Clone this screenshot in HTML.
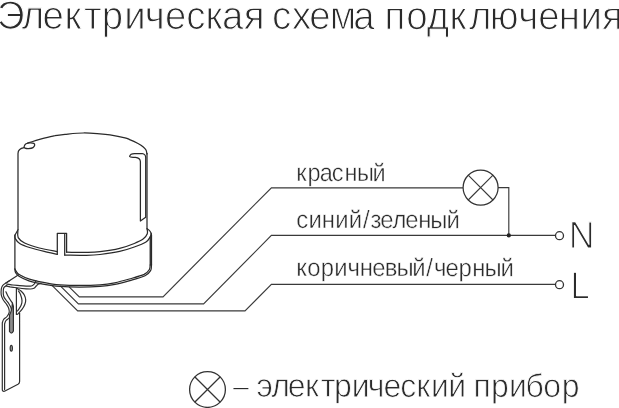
<!DOCTYPE html>
<html lang="ru">
<head>
<meta charset="utf-8">
<title>Электрическая схема подключения</title>
<style>
html,body{margin:0;padding:0;background:#fff;overflow:hidden}
svg{will-change:transform;display:block;position:absolute;left:0;top:0}
text{font-family:"Liberation Sans","DejaVu Sans",sans-serif;fill:#2b2b2b;stroke:#fff;stroke-linejoin:round}
.t1{font-size:40px;stroke-width:1.1px}
.t2{font-size:24px;stroke-width:.6px}
.t3{font-size:34px;stroke-width:.9px}
.t5{font-size:34px;stroke-width:.3px}
.t4{font-size:37px;stroke-width:1.1px}
.ln{fill:none;stroke:#3a3a3a;stroke-width:1.15}
.dv{fill:none;stroke:#2a2a2a;stroke-width:1.25;stroke-linecap:round;stroke-linejoin:round}
.br{stroke-width:1.2;stroke:#303030}
</style>
</head>
<body>
<svg width="619" height="408" viewBox="0 0 619 408">
<rect id="bg" width="619" height="408" fill="#fff"/>

<!-- wires -->
<g class="ln">
<path d="M69.1 286.9L79.3 296.8H163L271.4 187.8H463"/>
<path d="M60.3 285.9L78.4 303.9H203.6L271.4 235.4H555.500"/>
<path d="M51.5 284.9L77.7 310.9H245L271.4 284.3H555.500"/>
<path d="M498 187.6H508.800V235.4"/>
<circle cx="480.600" cy="187.600" r="17.500" style="stroke-width:1.25;stroke:#333"/>
<path d="M468.200 175.200L493 200M493 175.200L468.200 200"/>
<circle cx="559.500" cy="235.700" r="4" style="stroke-width:1.3;stroke:#333"/>
<circle cx="559.500" cy="284.700" r="4" style="stroke-width:1.3;stroke:#333"/>
</g>
<g class="ln" style="stroke-width:1.3;stroke:#333">
<circle cx="207.500" cy="389.500" r="17.900"/>
<path d="M194.700 376.700L220.300 402.300M220.300 376.700L194.700 402.300"/>
</g>
<circle cx="508.800" cy="235.400" r="2.100" fill="#222"/>

<!-- device -->
<g class="dv">
<path d="M18 229.8V153.5C18 150 19.8 148.4 24.1 147.7"/>
<path d="M24.1 146.6C24.3 145.9 25.0 144.4 26.0 143.8C27.0 143.2 28.7 142.9 30.0 142.8C31.3 142.7 33.0 143.0 33.8 143.4C34.6 143.8 34.8 144.5 34.7 145.2C34.6 145.9 34.0 147.0 33.0 147.6C32.0 148.2 29.8 148.5 28.5 148.6C27.2 148.7 25.7 148.4 25.0 148.1C24.3 147.8 23.9 147.3 24.1 146.6Z"/>
<path d="M27.5 143.1C30.3 142.3 39.6 139.4 44.2 138.2C48.8 137.0 51.5 136.3 55.0 135.7C58.5 135.0 60.3 134.8 65.0 134.3C69.7 133.9 77.5 133.1 83.3 133.0C89.1 132.9 95.5 133.5 100.0 133.8C104.5 134.1 105.8 134.2 110.0 134.9C114.2 135.6 121.7 137.1 125.0 137.9C128.3 138.7 127.4 138.7 129.6 139.6C131.8 140.5 135.7 142.3 138.0 143.5C140.3 144.7 142.0 145.8 143.3 146.9C144.6 148.0 145.4 148.8 146.0 150.0C146.6 151.2 146.8 153.3 147.0 154.0"/>
<path d="M147 153.5V228.8"/>
<path d="M129.6 156.4C130 154.6 132 153.5 134.5 153.5H142.2C144.5 153.9 145.6 155.4 145.7 157.4V217.2L140.4 221V161.8C140.3 159.4 138.5 157.8 135.5 157.4C133 157.1 130 157.6 129.6 156.4Z"/>
<path d="M18 229.8L14.9 235.2V268.9"/>
<path d="M17.9 230.8C17.9 231.9 17.1 235.6 18.2 237.6C19.3 239.6 21.1 241.3 24.6 243.0C28.1 244.7 33.8 246.6 39.3 248.0C44.8 249.4 54.3 251.0 57.3 251.6"/>
<path d="M14.9 235.2C15.0 235.8 14.5 237.2 15.3 238.6C16.1 240.0 17.3 242.0 19.7 243.5C22.1 245.0 25.4 246.2 29.5 247.5C33.6 248.8 39.6 250.3 44.2 251.4C48.8 252.5 55.1 253.8 57.3 254.3"/>
<path d="M57.3 254.3V233.3H66.6V252.2M64.7 255.1V234.2"/>
<path d="M66.6 252.2C69.7 252.2 79.4 252.5 85.0 252.4C90.6 252.3 94.2 252.4 100.0 251.7C105.8 251.0 113.9 249.8 119.6 248.4C125.3 247.0 130.4 245.1 134.3 243.5C138.2 241.9 140.9 240.7 143.1 239.1C145.3 237.5 146.6 235.4 147.3 233.7C148.0 232.0 147.1 229.6 147.1 228.8"/>
<path d="M64.7 255.1C68.1 255.1 79.1 255.4 85.0 255.3C90.9 255.2 94.2 255.2 100.0 254.5C105.8 253.8 113.9 252.7 119.6 251.4C125.3 250.2 129.9 248.6 134.3 247.0C138.7 245.4 143.4 243.6 146.0 242.0C148.6 240.4 149.1 238.6 150.0 237.2C150.9 235.8 151.0 234.0 151.2 233.3"/>
<path d="M147.1 228.8C149.5 230 151 232 151.5 235V264.8M150.2 237V265"/>
<path d="M14.9 268.9C15.1 269.3 15.4 270.4 16.2 271.4C17.0 272.4 17.4 273.5 19.6 274.8C21.8 276.1 26.1 278.1 29.4 279.2C32.7 280.3 35.6 280.9 39.2 281.7C42.8 282.5 47.5 283.3 51.0 283.8C54.5 284.3 55.3 284.5 60.0 284.8C64.7 285.1 72.7 285.4 79.4 285.4C86.1 285.4 94.1 285.2 100.0 284.8C105.9 284.4 109.8 283.8 114.7 282.8C119.6 281.8 124.5 280.4 129.4 279.0C134.3 277.6 140.8 275.9 144.1 274.4C147.4 272.8 148.3 271.3 149.3 269.7C150.3 268.1 150.0 265.8 150.2 265.0"/>
<path d="M14.9 269.5C15.0 270.0 14.9 271.5 15.6 272.6C16.3 273.7 16.8 274.8 19.0 276.2C21.2 277.6 25.6 279.6 28.9 280.8C32.2 282.0 35.2 282.5 38.9 283.3C42.5 284.1 47.3 284.9 50.8 285.4C54.3 285.9 55.2 286.1 60.0 286.4C64.8 286.7 72.7 287.0 79.4 287.0C86.1 287.0 94.1 286.8 100.0 286.4C105.9 286.0 110.0 285.4 115.0 284.4C120.0 283.4 124.9 282.0 129.9 280.6C134.9 279.2 141.6 277.5 145.0 275.8C148.4 274.1 149.5 272.4 150.6 270.6C151.7 268.8 151.3 265.8 151.5 264.8"/>
</g>
<g class="dv br">
<path d="M18.6 274.8L5.9 283.1"/>
<path d="M9.6 280.7C9.0 281.1 7.1 282.3 5.9 283.1C4.7 283.9 3.4 284.6 2.6 285.6C1.8 286.6 1.5 287.5 1.3 289.0C1.1 290.5 0.9 292.9 1.2 294.7C1.5 296.4 2.2 298.0 3.0 299.5C3.8 301.0 5.1 302.1 6.0 303.5C6.9 304.9 8.1 306.5 8.6 308.0C9.1 309.5 9.5 311.1 9.2 312.5C8.9 313.9 7.9 315.3 7.0 316.5C6.1 317.7 4.4 318.4 3.6 319.5C2.8 320.6 2.5 322.4 2.3 323.0V389.5Q2.3 391.8 4.5 391.2L18 384.3Q19.6 383.4 19.6 381.5V313"/>
<path d="M6.9 285.2C6.4 285.6 4.6 286.5 4.0 287.4C3.4 288.3 3.3 289.0 3.3 290.5C3.2 292.0 3.2 294.6 3.7 296.2C4.2 297.8 5.1 298.7 6.0 300.0C6.9 301.3 8.1 302.6 9.0 304.0C9.9 305.4 10.8 307.0 11.2 308.5C11.6 310.0 11.9 311.5 11.6 313.0C11.3 314.5 10.4 316.2 9.5 317.5C8.6 318.8 6.8 319.4 6.0 320.5C5.2 321.6 4.8 323.4 4.6 324.0V389.5"/>
<path d="M5.9 291.8C6.2 292.4 6.9 294.2 7.6 295.5C8.3 296.8 9.2 298.2 10.0 299.5C10.8 300.8 12.0 302.4 12.4 303.0"/>
<path d="M6.9 284.1C7.9 284.2 10.9 284.8 13.0 285.0C15.1 285.2 17.4 285.4 19.6 285.6C21.8 285.8 24.0 286.0 26.0 286.1C28.0 286.2 30.1 286.3 31.4 286.0C32.7 285.7 33.4 284.9 34.0 284.3C34.6 283.7 34.9 282.8 35.2 282.2C35.5 281.6 35.9 281.1 36.0 280.9"/>
<path d="M5.9 286.0C6.6 286.1 8.5 286.6 10.0 286.9C11.5 287.1 12.7 287.2 14.7 287.5C16.7 287.8 19.4 288.2 22.0 288.5C24.6 288.8 28.4 289.0 30.4 289.0C32.4 289.0 33.0 288.8 34.0 288.3C35.0 287.8 35.5 286.7 36.2 286.0C36.9 285.3 37.2 284.7 38.0 284.2C38.8 283.7 40.7 283.3 41.2 283.1"/>
<path d="M16.4 288V314.5"/>
<path d="M17.3 288.5C17.9 288.9 19.8 289.9 21.0 291.0C22.2 292.1 23.5 293.5 24.3 295.0C25.1 296.5 25.6 298.3 25.7 299.9C25.8 301.5 25.4 302.9 24.8 304.5C24.2 306.1 23.2 307.8 22.0 309.4C20.8 311.0 18.3 313.5 17.6 314.3"/>
<path d="M18.4 291.0C18.8 291.6 19.9 292.9 20.5 294.5C21.1 296.1 21.9 298.9 22.0 300.6C22.1 302.4 21.7 303.6 21.2 305.0C20.7 306.4 19.7 307.7 19.1 308.7C18.5 309.7 17.7 310.6 17.4 311.0"/>
<path d="M12.4 303L13.4 306.5V331Q11.5 334.8 9.5 331.5V315Q11.9 311 12.4 303Z" fill="#8c8c8c"/>
<ellipse cx="11.300" cy="348.200" rx="1.100" ry="2.900" fill="#aaa"/>
</g>

<!-- text -->
<text id="title" class="t1" x="-3.07 22.39 43.77 66.45 86.7 104.94 128.12 149.32 170.11 192.05 211.81 228.77 251.26 277.7 280.45 301.12 318.92 339.99 364.13 391.15 396.34 418.83 439.88 463.46 483.63 505.02 534.32 554.9 576.02 598.53 620.59" y="29.10" transform="rotate(0.05 310 29) scale(0.9700 1)" style="font-size:39.60px;stroke-width:1.05px">Электрическая схема подключения</text>
<text id="lab1" class="t2" x="315.17 327.13 340.18 353.04 366.39 379.71 396.34" y="181.10" transform="rotate(0.05 341 181) scale(0.9400 1)" style="font-size:25.00px;stroke-width:0.44px">красный</text>
<text id="lab2" class="t2" x="310.15 323.12 336.95 351.13 365.16 380.11 388.08 398.12 411.05 424.38 438.07 450.65 467.42" y="228.10" transform="rotate(0.05 378 228) scale(0.9550 1)" style="font-size:25.00px;stroke-width:0.42px">синий/зеленый</text>
<text id="lab3" class="t2" x="310.12 321.71 335.8 349.9 363.9 376.6 389.83 402.93 415.15 431.76 446.27 454.51 466.48 480.2 494.41 507.4 524.12" y="276.10" transform="rotate(0.05 405 276) scale(0.9550 1)" style="font-size:25.00px;stroke-width:0.41px">коричневый/черный</text>
<text id="termN" class="t4" x="568.84" y="248.10" textLength="25.88" lengthAdjust="spacingAndGlyphs" transform="rotate(0.05 577 248)" style="font-size:38.20px;stroke-width:1.26px">N</text>
<text id="termL" class="t4" x="570.52" y="298.60" textLength="19.18" lengthAdjust="spacingAndGlyphs" transform="rotate(0.05 579 299)" style="font-size:38.20px;stroke-width:1.21px">L</text>
<text id="leg_dash" class="t3" x="233.11" y="396.95" textLength="15.86" lengthAdjust="spacingAndGlyphs" transform="rotate(0.05 241 397)" style="font-size:33.00px;stroke-width:0.90px">–</text>
<text id="leg" class="t3" x="264.42 279.68 296.58 314.45 330.64 344.32 362.64 379.05 395.49 412.62 429.11 444.29 462.23 485.66 488.1 506.28 524.75 541.77 560 579.01" y="396.95" transform="rotate(0.05 418 397) scale(0.9700 1)" style="font-size:33.00px;stroke-width:0.80px">электрический прибор</text>
</svg>
</body>
</html>
